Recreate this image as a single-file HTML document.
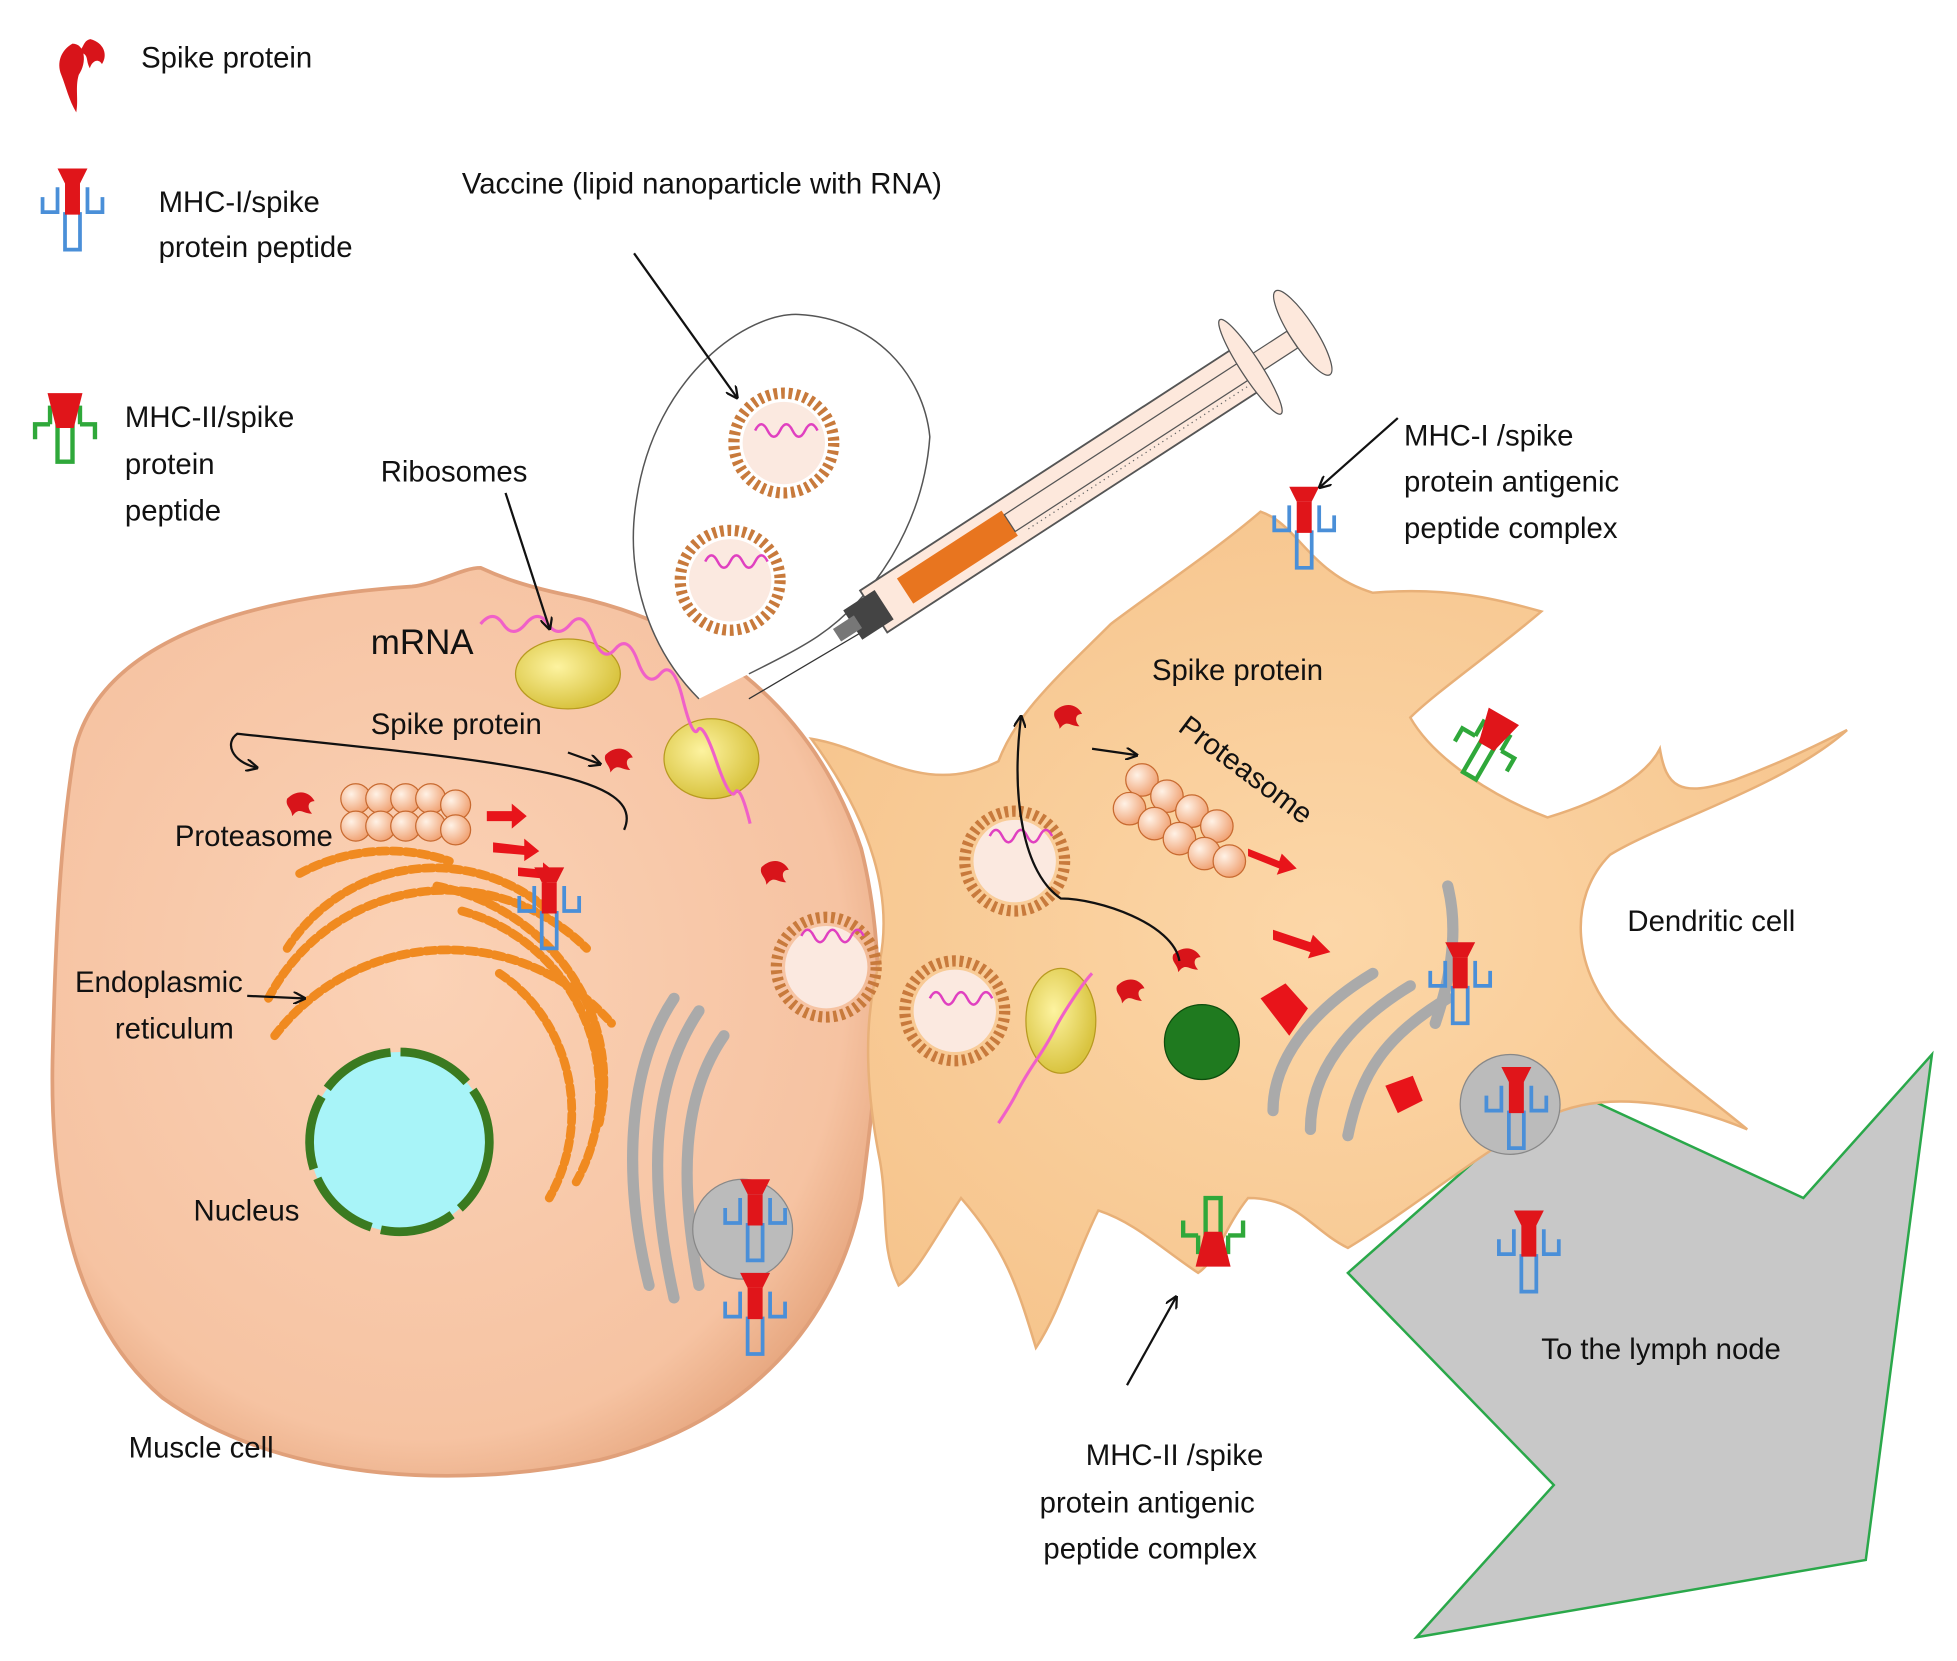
<!DOCTYPE html>
<html><head><meta charset="utf-8"><style>
html,body{margin:0;padding:0;background:#fff;}
svg{display:block}
text{font-family:"Liberation Sans",sans-serif;fill:#111;}
</style></head><body>
<svg width="1957" height="1661" viewBox="0 0 1568 1331" xmlns="http://www.w3.org/2000/svg">
<defs>
<radialGradient id="mc" cx="0.45" cy="0.45" r="0.6"><stop offset="0" stop-color="#fbd2b6"/><stop offset="0.85" stop-color="#f6c3a2"/><stop offset="1" stop-color="#e8a982"/></radialGradient>
<radialGradient id="dc" cx="0.5" cy="0.5" r="0.6"><stop offset="0" stop-color="#fcd7a8"/><stop offset="1" stop-color="#f6c48c"/></radialGradient>
<radialGradient id="rib" cx="0.4" cy="0.4" r="0.6"><stop offset="0" stop-color="#fdf3a0"/><stop offset="1" stop-color="#d9c440"/></radialGradient>
<radialGradient id="pb" cx="0.35" cy="0.35" r="0.7"><stop offset="0" stop-color="#fff2e6"/><stop offset="1" stop-color="#f0a070"/></radialGradient>
<marker id="ar" markerWidth="10" markerHeight="10" refX="8" refY="5" orient="auto" markerUnits="userSpaceOnUse"><path d="M0,0 L10,5 L0,10" fill="none" stroke="#111" stroke-width="1.8"/></marker>
<g id="np"><circle r="40" fill="none" stroke="#c87a3c" stroke-width="9" stroke-dasharray="3 3"/><circle r="33" fill="#fbe9e0"/></g>
<g id="wave"><path d="M-25,-20 q5,-10 10,0 t10,0 t10,0 t10,0 t10,0" fill="none" stroke="#e040c0" stroke-width="2"/></g>
<g id="mhc1"><path d="M-12,-25 l0,20 -12,0 0,-12 M12,-25 l0,20 12,0 0,-12 M-6,-5 l0,30 12,0 0,-30" fill="none" stroke="#4a8fd8" stroke-width="3"/><path d="M-6,-28 l12,0 0,25 -12,0z" fill="#e0151a"/><path d="M-12,-40 l24,0 -6,12 -12,0z" fill="#e0151a"/></g>
<g id="mhc2"><path d="M-12,-5 l-12,0 0,12 M12,-5 l12,0 0,12 M-12,-20 l0,15 M12,-20 l0,15 M-6,-5 l0,30 12,0 0,-30" fill="none" stroke="#2fa83a" stroke-width="3.5"/><path d="M-14,-30 l28,0 -7,28 -14,0z" fill="#e0151a"/></g>
<g id="spk"><path d="M0,0 c8,-8 18,-6 22,2 c-6,0 -6,6 -2,10 c-8,0 -10,-6 -16,2 c0,-6 -6,-8 -4,-14z" fill="#d8141a"/></g>
</defs>

<polygon points="1080,1020 1250,870 1445,960 1548,845 1495,1250 1135,1312 1245,1190" fill="#c8c8c8" stroke="#2aa84a" stroke-width="2"/>

<path d="M60,600 C80,520 180,480 330,470 C350,468 370,455 385,455 C400,462 420,470 460,478 C560,500 650,560 690,680 C715,780 700,880 690,960 C670,1060 600,1140 480,1170 C360,1195 220,1185 130,1120 C60,1060 40,960 42,850 C44,760 48,670 60,600Z" fill="url(#mc)" stroke="#e0a07a" stroke-width="3"/>

<path d="M650,592 C700,600 740,640 800,610 C815,570 850,540 890,500 C930,470 975,440 1010,410 C1040,420 1050,460 1100,475 C1160,470 1200,480 1235,490 C1200,520 1150,555 1130,575 C1150,610 1200,640 1240,655 C1290,640 1320,620 1330,600 C1335,630 1345,640 1390,625 C1430,610 1460,595 1480,585 C1430,630 1330,660 1290,685 C1255,720 1260,780 1300,820 C1340,860 1370,880 1400,905 C1340,880 1280,875 1240,895 C1190,920 1130,970 1080,1000 C1050,985 1040,960 1000,960 C980,985 975,1010 960,1020 C930,1000 910,980 880,970 C860,1010 850,1050 830,1080 C815,1030 805,1000 770,960 C750,990 735,1020 720,1030 C705,1000 712,970 705,930 C695,880 690,820 705,770 C715,720 700,660 650,592Z" fill="url(#dc)" stroke="#e8b078" stroke-width="2"/>

<path d="M560,560 C520,520 500,460 510,400 C525,300 600,250 640,252 C700,255 740,300 745,350 C740,420 700,480 655,510 C640,520 620,530 600,540" fill="#fff" stroke="#555" stroke-width="1.2"/>
<line x1="600" y1="560" x2="710" y2="495" stroke="#333" stroke-width="1"/>
<use href="#np" x="628" y="355"/><use href="#wave" x="630" y="365"/>
<use href="#np" x="585" y="465"/><use href="#wave" x="590" y="470"/>
<g transform="translate(700,490) rotate(-33)">
<rect x="0" y="-20" width="360" height="40" fill="#fde8dc" stroke="#555" stroke-width="1.5"/>
<rect x="30" y="-12" width="100" height="24" fill="#e8751f"/>
<rect x="-20" y="-14" width="30" height="28" fill="#444"/>
<rect x="-35" y="-6" width="20" height="12" fill="#777"/>
<rect x="130" y="-8" width="270" height="16" fill="#fde8dc" stroke="#555"/>
<ellipse cx="360" cy="0" rx="8" ry="45" fill="#fde8dc" stroke="#555"/>
<ellipse cx="410" cy="0" rx="10" ry="40" fill="#fde8dc" stroke="#555"/>
<line x1="140" y1="12" x2="350" y2="12" stroke="#666" stroke-dasharray="1 3"/>
</g>

<g fill="none" stroke="#f08a20" stroke-width="7" stroke-dasharray="7 4" stroke-linecap="round">
<path d="M230,760 A140,140 0 0 1 440,730"/><path d="M215,800 A160,160 0 0 1 470,760"/>
<path d="M220,830 A175,175 0 0 1 490,820"/><path d="M240,700 A150,150 0 0 1 360,690"/>
<path d="M350,710 A170,160 0 0 1 480,900"/><path d="M370,730 A150,150 0 0 1 460,950"/>
<path d="M400,780 A120,130 0 0 1 440,960"/>
</g>
<circle cx="320" cy="915" r="72" fill="#a8f4f8" stroke="#3a7a20" stroke-width="7" stroke-dasharray="60 8"/>
<g fill="none" stroke="#aaa" stroke-width="9" stroke-linecap="round">
<path d="M540,800 C500,860 500,950 520,1030"/><path d="M560,810 C520,870 520,950 540,1040"/><path d="M580,830 C545,880 545,950 560,1030"/>
<path d="M1100,780 C1050,810 1020,850 1020,890"/><path d="M1130,790 C1080,820 1050,860 1050,905"/><path d="M1160,800 C1110,830 1090,860 1080,910"/><path d="M1160,710 C1170,750 1160,790 1150,820"/>
</g>
<circle cx="595" cy="985" r="40" fill="#bbb" stroke="#888"/>
<circle cx="1210" cy="885" r="40" fill="#bbb" stroke="#888"/>

<ellipse cx="455" cy="540" rx="42" ry="28" fill="url(#rib)" stroke="#b89a20"/>
<ellipse cx="570" cy="608" rx="38" ry="32" fill="url(#rib)" stroke="#b89a20"/>
<ellipse cx="850" cy="818" rx="28" ry="42" fill="url(#rib)" stroke="#b89a20"/>
<path d="M385,500 q10,-12 18,0 t18,0 t18,0 t18,0 t18,10 t18,10 t18,10 t18,10 t18,20 t12,25 t15,25 t15,25 t12,25" fill="none" stroke="#f060c8" stroke-width="2.5"/>
<path d="M800,900 q10,-15 15,-25 t15,-25 t15,-25 t15,-25 t15,-20" fill="none" stroke="#f060c8" stroke-width="2.5"/>

<use href="#np" x="662" y="775"/><use href="#wave" x="667" y="770"/>
<use href="#np" x="813" y="690"/><use href="#wave" x="818" y="690"/>
<use href="#np" x="765" y="810"/><use href="#wave" x="770" y="820"/>

<g fill="url(#pb)" stroke="#c86a30">
<circle cx="285" cy="640" r="12"/><circle cx="305" cy="640" r="12"/><circle cx="325" cy="640" r="12"/><circle cx="345" cy="640" r="12"/><circle cx="365" cy="645" r="12"/>
<circle cx="285" cy="662" r="12"/><circle cx="305" cy="662" r="12"/><circle cx="325" cy="662" r="12"/><circle cx="345" cy="662" r="12"/><circle cx="365" cy="665" r="12"/>
<circle cx="915" cy="625" r="13"/><circle cx="935" cy="638" r="13"/><circle cx="955" cy="650" r="13"/><circle cx="975" cy="662" r="13"/>
<circle cx="905" cy="648" r="13"/><circle cx="925" cy="660" r="13"/><circle cx="945" cy="672" r="13"/><circle cx="965" cy="684" r="13"/><circle cx="985" cy="690" r="13"/>
</g>
<circle cx="963" cy="835" r="30" fill="#1f7a1f" stroke="#0d4d0d"/>

<g fill="#e8141a">
<path d="M390,650 l20,0 0,-6 12,10 -12,10 0,-6 -20,0z"/>
<path d="M395,675 l25,3 0,-6 12,10 -12,8 0,-5 -25,-2z"/>
<path d="M415,695 l20,2 0,-6 12,10 -12,8 0,-5 -20,-2z"/>
<path d="M1000,680 l25,10 2,-6 12,12 -16,5 2,-5 -25,-10z"/>
<path d="M1020,745 l30,10 2,-6 14,14 -18,5 2,-5 -30,-10z"/>
<path d="M1010,800 l20,-12 18,20 -15,22z"/>
<path d="M1110,870 l22,-8 8,20 -20,10z"/>
</g>
<use href="#spk" x="230" y="640"/><use href="#spk" x="485" y="605"/><use href="#spk" x="610" y="695"/>
<use href="#spk" x="845" y="570"/><use href="#spk" x="940" y="765"/><use href="#spk" x="895" y="790"/>
<use href="#mhc1" x="440" y="735"/><use href="#mhc1" x="605" y="985"/><use href="#mhc1" x="605" y="1060"/>
<use href="#mhc1" x="1045" y="430"/><use href="#mhc1" x="1170" y="795"/><use href="#mhc1" x="1215" y="895"/><use href="#mhc1" x="1225" y="1010"/>
<use href="#mhc2" x="1190" y="600" transform="rotate(30 1190 600)"/>
<use href="#mhc2" x="972" y="985" transform="rotate(180 972 985)"/>

<use href="#spk" x="50" y="30" transform="rotate(60 60 50)"/>
<path d="M58,35 c10,0 12,15 5,25 c-3,10 0,20 -2,30 c-6,-10 -8,-20 -12,-30 c-4,-10 0,-20 9,-25z" fill="#d8141a"/>
<use href="#mhc1" x="58" y="175"/>
<use href="#mhc2" x="52" y="345"/>

<g fill="none" stroke="#111" stroke-width="1.8" marker-end="url(#ar)">
<path d="M508,203 L590,318"/>
<path d="M405,395 L440,503"/>
<path d="M1120,335 L1058,390"/>
<path d="M198,798 L243,800"/>
<path d="M903,1110 L942,1040"/>
<path d="M455,603 L480,612"/>
<path d="M875,600 L910,605"/>
<path d="M500,665 C520,620 400,610 190,588 C180,595 185,610 205,615"/>
<path d="M945,770 C940,740 880,720 850,720 C820,700 810,640 818,575"/>
</g>

<g font-size="23.5">
<text x="113" y="54">Spike protein</text>
<text x="127" y="170">MHC-I/spike</text><text x="127" y="206">protein peptide</text>
<text x="100" y="342">MHC-II/spike</text><text x="100" y="380">protein</text><text x="100" y="417">peptide</text>
<text x="370" y="155">Vaccine (lipid nanoparticle  with RNA)</text>
<text x="305" y="386">Ribosomes</text>
<text x="297" y="588">Spike protein</text>
<text x="140" y="678">Proteasome</text>
<text x="60" y="795">Endoplasmic</text><text x="92" y="832">reticulum</text>
<text x="155" y="978">Nucleus</text>
<text x="103" y="1168">Muscle cell</text>
<text x="1125" y="357">MHC-I /spike</text><text x="1125" y="394">protein antigenic</text><text x="1125" y="431">peptide complex</text>
<text x="923" y="545">Spike protein</text>
<text x="1304" y="746">Dendritic cell</text>
<text x="1235" y="1089">To the lymph node</text>
<text x="870" y="1174">MHC-II /spike</text><text x="833" y="1212">protein antigenic</text><text x="836" y="1249">peptide complex</text>
<text x="943" y="585" transform="rotate(37 943 585)">Proteasome</text>
</g>
<text x="297" y="524" font-size="28">mRNA</text>
</svg>
</body></html>
